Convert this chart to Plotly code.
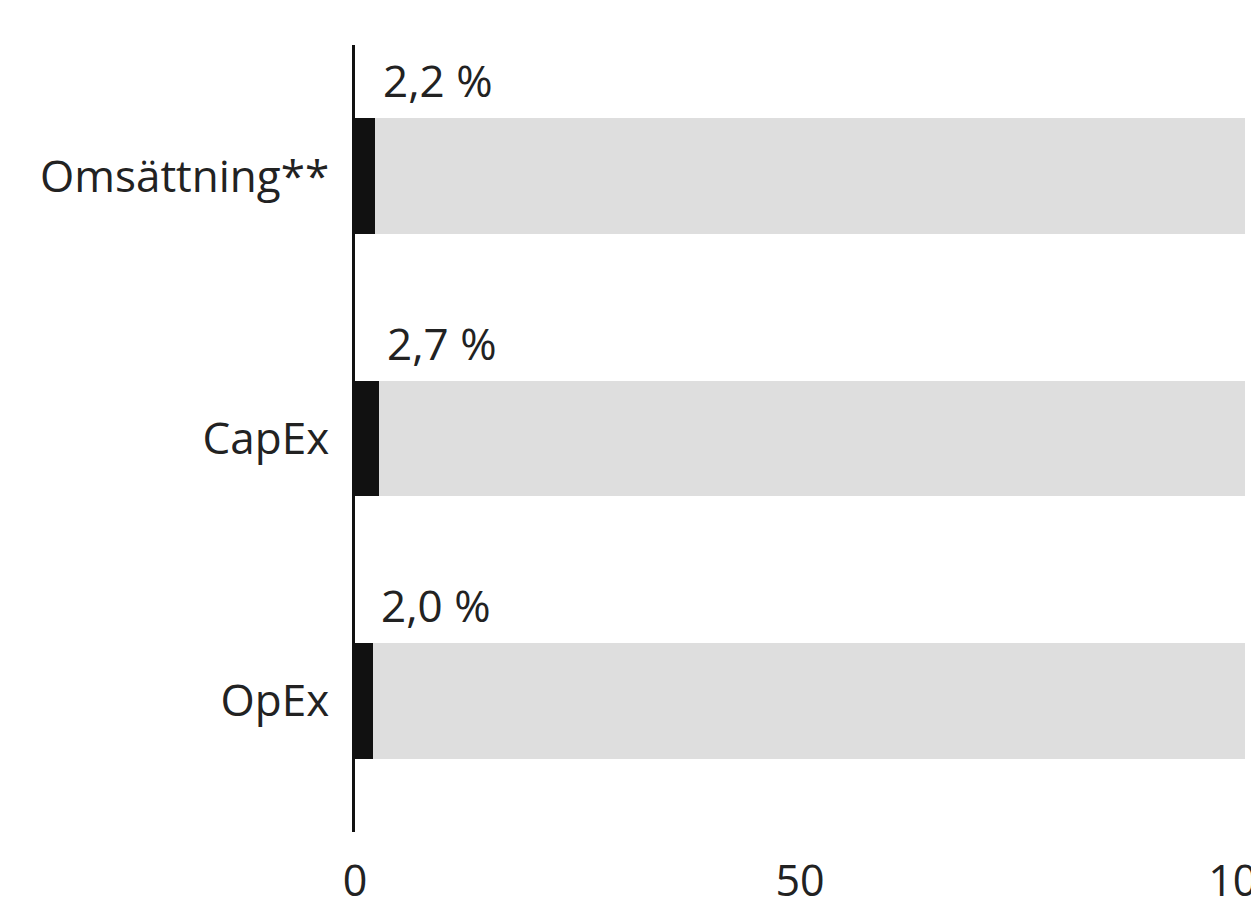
import plotly.graph_objects as go

categories = ["Omsättning**", "CapEx", "OpEx"]
aligned = [2.2, 2.7, 2.0]
not_aligned = [100 - v for v in aligned]
labels = ["2,2 %", "2,7 %", "2,0 %"]
x_ticks = [0, 50, 100]

FONT = "Open Sans, Arial, sans-serif"

fig = go.Figure()
fig.add_trace(go.Bar(
    y=categories, x=aligned, orientation="h",
    marker=dict(color="#111111", line=dict(width=0)),
    width=0.44, showlegend=False, hoverinfo="skip",
))
fig.add_trace(go.Bar(
    y=categories, x=not_aligned, orientation="h",
    marker=dict(color="#dedede", line=dict(width=0)),
    width=0.44, showlegend=False, hoverinfo="skip",
))

for cat, v, lab in zip(categories, aligned, labels):
    fig.add_annotation(
        x=v, y=cat, text=lab, showarrow=False,
        xanchor="left", yanchor="middle", xshift=6, yshift=96,
        font=dict(family=FONT, size=44, color="#222222"),
    )

fig.update_layout(
    barmode="stack",
    width=1251, height=908,
    margin=dict(l=355, r=6, t=45, b=76),
    paper_bgcolor="white", plot_bgcolor="white",
    font=dict(family=FONT, size=42, color="#222222"),
)
fig.update_xaxes(
    range=[0, 100], tickvals=x_ticks, showgrid=False, zeroline=False,
    showline=False, ticks="", ticklabelstandoff=20,
    ticklabeloverflow="allow",
    tickfont=dict(family=FONT, size=43, color="#222222"), automargin=False,
)
fig.update_yaxes(
    categoryorder="array", categoryarray=categories[::-1],
    showgrid=False, zeroline=False, showline=True, linecolor="#111111",
    linewidth=3, ticks="", ticklabelstandoff=14,
    tickfont=dict(family=FONT, size=44, color="#222222"), automargin=False,
)

fig.write_html("out.html", config={"displayModeBar": False},
               post_script="document.body.style.margin='0';")
